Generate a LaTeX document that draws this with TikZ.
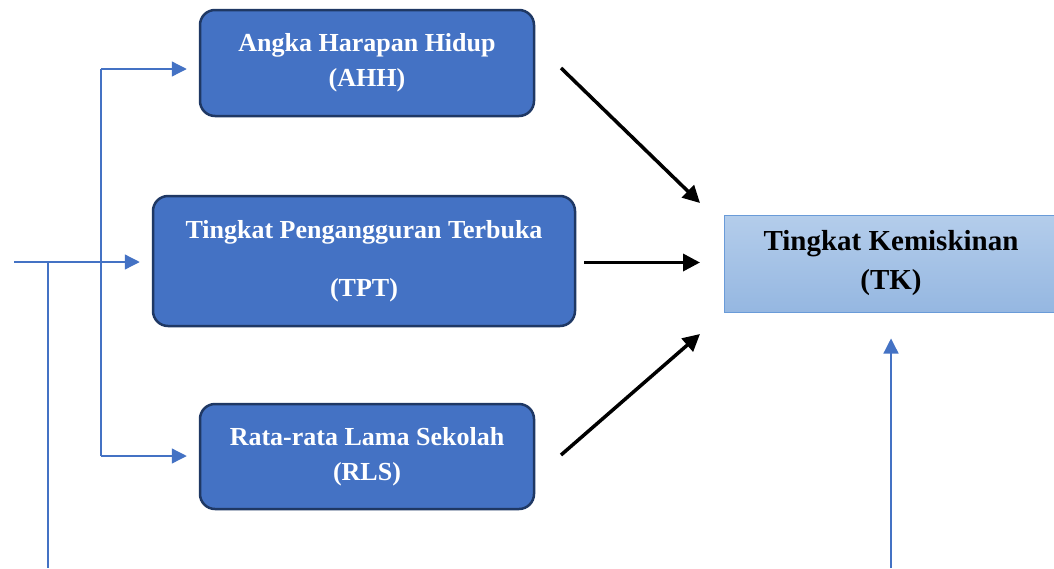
\documentclass[tikz,border=0pt]{standalone}
\usepackage{fontspec}
\setmainfont{Liberation Serif}
\usetikzlibrary{arrows.meta}
\definecolor{boxblue}{HTML}{4472C4}
\definecolor{boxedge}{HTML}{1F3864}
\definecolor{lineblue}{HTML}{4472C4}
\definecolor{tktop}{HTML}{B4CDEB}
\definecolor{tkbot}{HTML}{95B7E1}
\definecolor{tkedge}{HTML}{6A9BD8}
\begin{document}
\begin{tikzpicture}[x=1pt,y=-1pt,
  varbox/.style={draw=boxedge, line width=2.5pt, fill=boxblue, rounded corners=15pt, inner sep=0pt, text=white, align=center, font=\bfseries\fontsize{26}{35}\selectfont},
  tkbox/.style={draw=tkedge, line width=1pt, top color=tktop, bottom color=tkbot, inner sep=0pt, align=center, font=\bfseries\fontsize{29}{39}\selectfont},
  feed/.style={draw=lineblue, line width=1.3pt, -{Triangle[length=15pt,width=15pt]}},
  plainline/.style={draw=lineblue, line width=1.3pt},
  effect/.style={draw=black, line width=3.5pt, -{Triangle[length=17pt,width=17pt]}}]
\useasboundingbox (0,0) rectangle (1054,568);
\fill[white] (0,0) rectangle (1054,568);
\clip (0,0) rectangle (1054,568);

\node[varbox, minimum width=334pt, minimum height=106pt] (ahh) at (367,63) {Angka Harapan Hidup\\(AHH)};
\node[varbox, minimum width=422pt, minimum height=130pt, font=\bfseries\fontsize{26}{58}\selectfont] (tpt) at (364,261) {Tingkat Pengangguran Terbuka\\(TPT)};
\node[varbox, minimum width=334pt, minimum height=105pt] (rls) at (367,456.5) {Rata-rata Lama Sekolah\\(RLS)};
\node[tkbox, minimum width=334pt, minimum height=97pt] (tk) at (891,263.5) {Tingkat Kemiskinan\\(TK)};

\coordinate (inL) at (14,262);
\coordinate (spl) at (48,262);
\coordinate (drop) at (48,568);
\coordinate (busT) at (101,69);
\coordinate (busB) at (101,456);
\coordinate (tkin) at (891,568);

\coordinate (a1) at (561,68);
\coordinate (b1) at (700,203);
\coordinate (a2) at (584,262.5);
\coordinate (b2) at (700,262.5);
\coordinate (a3) at (561,455);
\coordinate (b3) at (700,334);

\draw[feed, shorten >=12pt] (inL) -- (inL -| tpt.west);
\draw[plainline] (spl) -- (drop);
\draw[plainline] (busT) -- (busB);
\draw[feed, shorten >=12pt] (busT) -- (busT -| ahh.west);
\draw[feed, shorten >=12pt] (busB) -- (busB -| rls.west);
\draw[feed, shorten >=26pt] (tkin) -- (tk.south);

\draw[effect] (a1) -- (b1);
\draw[effect] (a2) -- (b2);
\draw[effect] (a3) -- (b3);
\end{tikzpicture}
\end{document}
